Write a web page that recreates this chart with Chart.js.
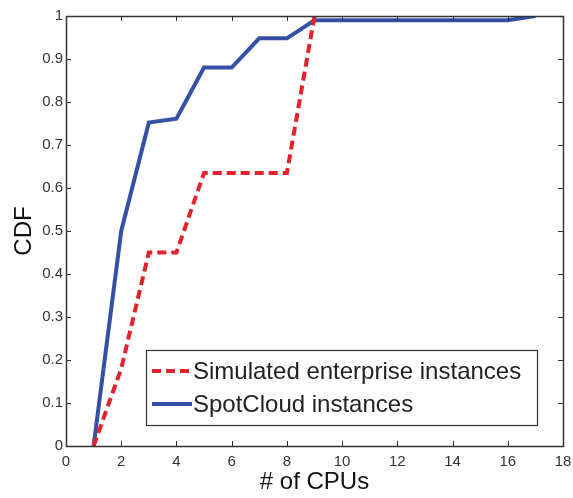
<!DOCTYPE html>
<html>
<head>
<meta charset="utf-8">
<script src="https://cdn.jsdelivr.net/npm/chart.js@4/dist/chart.umd.min.js"></script>
<style>
  html, body { margin: 0; padding: 0; background: #fff; }
  #wrap { width: 573px; height: 498px; }
</style>
</head>
<body>
<div id="wrap"><canvas id="cdfChart" width="573" height="498"></canvas></div>
<script>
// CPU counts and the CDF value reached at each count
const simulatedCpus = [1, 2, 3, 4, 5, 6, 7, 8, 9];
const simulatedCdf = [0, 0.18, 0.45, 0.45, 0.635, 0.635, 0.635, 0.635, 1];
const spotCloudCpus = [1, 2, 3, 4, 5, 6, 7, 8, 9, 10, 11, 12, 13, 14, 15, 16, 17];
const spotCloudCdf = [0, 0.5, 0.752, 0.761, 0.88, 0.88, 0.948, 0.948, 0.99, 0.99, 0.99, 0.99, 0.99, 0.99, 0.99, 0.99, 1];
const seriesNames = ['Simulated enterprise instances', 'SpotCloud instances'];
const xTicks = [0, 2, 4, 6, 8, 10, 12, 14, 16, 18];
const yTicks = [0, 0.1, 0.2, 0.3, 0.4, 0.5, 0.6, 0.7, 0.8, 0.9, 1];

const RED = '#e4222b';
const BLUE = '#3451a6';
const AXIS = '#333333';
const FONT = 'Arial, "Liberation Sans", sans-serif';

function toPoints(xs, ys) {
    return xs.map((x, i) => ({ x: x, y: ys[i] }));
}

// box around the plot with inward tick marks on all four sides
const boxAxes = {
    id: 'boxAxes',
    afterDatasetsDraw(chart) {
        const { ctx, chartArea: a, scales: { x, y } } = chart;
        const len = 5;
        ctx.save();
        ctx.strokeStyle = AXIS;
        ctx.lineWidth = 1;
        ctx.beginPath();
        xTicks.forEach(v => {
            const px = Math.round(x.getPixelForValue(v)) + 0.5;
            ctx.moveTo(px, a.bottom); ctx.lineTo(px, a.bottom - len);
            ctx.moveTo(px, a.top); ctx.lineTo(px, a.top + len);
        });
        yTicks.forEach(v => {
            const py = Math.round(y.getPixelForValue(v)) + 0.5;
            ctx.moveTo(a.left, py); ctx.lineTo(a.left + len, py);
            ctx.moveTo(a.right, py); ctx.lineTo(a.right - len, py);
        });
        ctx.stroke();
        ctx.lineWidth = 1.5;
        ctx.strokeRect(Math.round(a.left) + 0.5, Math.round(a.top) + 0.5,
            Math.round(a.right - a.left), Math.round(a.bottom - a.top));
        ctx.restore();
    }
};

// legend box drawn inside the plot area
const insideLegend = {
    id: 'insideLegend',
    afterDraw(chart, args, opts) {
        const { ctx, chartArea: a } = chart;
        const left = a.left + opts.left, top = a.top + opts.top;
        ctx.save();
        ctx.fillStyle = '#fff';
        ctx.fillRect(left, top, opts.width, opts.height);
        ctx.strokeStyle = AXIS;
        ctx.lineWidth = 1.2;
        ctx.strokeRect(left + 0.5, top + 0.5, opts.width, opts.height);
        ctx.font = opts.font;
        ctx.textBaseline = 'middle';
        chart.data.datasets.forEach((ds, i) => {
            const cy = top + opts.rowTop + i * opts.rowGap;
            ctx.beginPath();
            ctx.strokeStyle = ds.borderColor;
            ctx.lineWidth = ds.borderWidth;
            ctx.setLineDash(ds.borderDash || []);
            ctx.moveTo(left + 6, cy);
            ctx.lineTo(left + 46, cy);
            ctx.stroke();
            ctx.setLineDash([]);
            ctx.fillStyle = '#222';
            ctx.fillText(ds.label, left + 47, cy + 1);
        });
        ctx.restore();
    }
};

const tickFont = { family: FONT, size: 15 };
const titleFont = { family: FONT, size: 24 };

new Chart(document.getElementById('cdfChart'), {
    type: 'line',
    data: {
        datasets: [{
            label: seriesNames[0],
            data: toPoints(simulatedCpus, simulatedCdf),
            borderColor: RED,
            borderWidth: 4,
            borderDash: [9, 5],
            pointRadius: 0,
            tension: 0
        }, {
            label: seriesNames[1],
            data: toPoints(spotCloudCpus, spotCloudCdf),
            borderColor: BLUE,
            borderWidth: 4,
            pointRadius: 0,
            tension: 0
        }]
    },
    options: {
        responsive: false,
        animation: false,
        layout: { padding: { top: 16, right: 10, left: 0, bottom: 0 } },
        plugins: {
            legend: { display: false },
            tooltip: { enabled: false },
            insideLegend: {
                left: 80, top: 334, width: 391, height: 75,
                rowTop: 21, rowGap: 33,
                font: '24px ' + FONT
            }
        },
        scales: {
            x: {
                type: 'linear',
                min: 0,
                max: 18,
                afterBuildTicks: s => { s.ticks = xTicks.map(v => ({ value: v })); },
                afterFit: s => { s.height = 52; s.paddingLeft = 0; s.paddingRight = 0; },
                grid: { display: false, drawTicks: false },
                border: { display: false },
                ticks: { padding: 7, color: AXIS, font: tickFont, callback: v => String(v) },
                title: {
                    display: true,
                    text: '# of CPUs',
                    color: '#111',
                    padding: { top: 0, bottom: 1 },
                    font: titleFont
                }
            },
            y: {
                type: 'linear',
                min: 0,
                max: 1,
                afterBuildTicks: s => { s.ticks = yTicks.map(v => ({ value: v })); },
                afterFit: s => { s.width = 66; s.paddingTop = 0; s.paddingBottom = 0; },
                grid: { display: false, drawTicks: false },
                border: { display: false },
                ticks: { padding: 3, color: AXIS, font: tickFont, callback: v => String(v) },
                title: {
                    display: true,
                    text: 'CDF',
                    color: '#111',
                    padding: { top: 10, bottom: 0 },
                    font: titleFont
                }
            }
        }
    },
    plugins: [boxAxes, insideLegend]
});
</script>
</body>
</html>
